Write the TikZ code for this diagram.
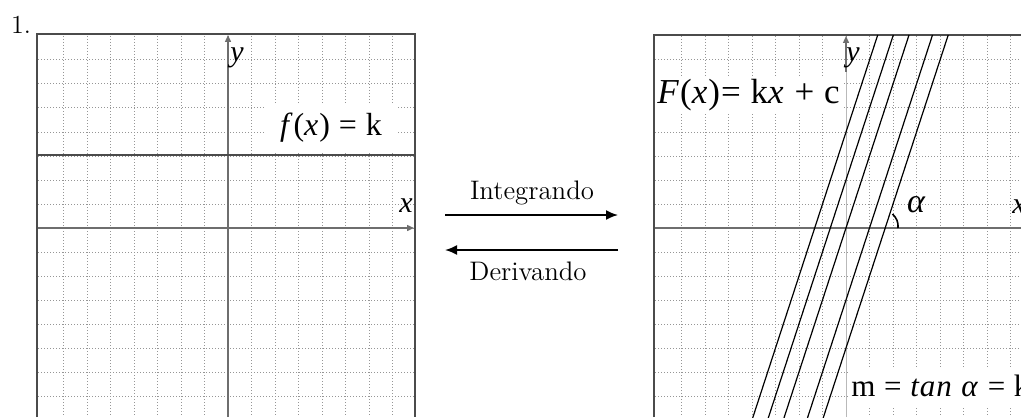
\documentclass[tikz,border=0pt]{standalone}
\usepackage{fontspec}
\usepackage{xcolor}
\usetikzlibrary{arrows.meta,positioning}
\newfontfamily\eqfont[LetterSpace=3, ItalicFont={Liberation Serif Italic}]{Liberation Serif}
\definecolor{GridGray}{RGB}{150,150,150}
\definecolor{FrameGray}{RGB}{75,75,75}
\definecolor{AxisGray}{RGB}{110,110,110}
\definecolor{LightAxis}{RGB}{185,185,185}

\begin{document}
\begin{tikzpicture}[
  x=0.5pt, y=-0.5pt,
  gridline/.style={GridGray, line width=0.5pt, densely dotted},
  frame/.style={FrameGray, line width=0.9pt},
  axis/.style={AxisGray, line width=0.7pt},
  axisarrow/.style={axis, -{Triangle[length=3.5pt,width=3pt]}},
  family/.style={black, line width=0.6pt},
  eqbox/.style={fill=white, inner sep=1pt, font=\eqfont\fontsize{16}{18}\selectfont},
  axlabel/.style={inner sep=0pt, font=\eqfont\fontsize{15}{18}\selectfont\itshape},
  word/.style={inner sep=0pt, font=\fontsize{13.4}{16}\selectfont},
  arrow/.style={-{Latex[length=6pt,width=5pt]}, line width=0.9pt}
]
\useasboundingbox (0,0) rectangle (1021,417);

% left grid
\foreach \i in {-7,...,7}
  \draw[gridline] ({228+23.5*\i},36) -- ({228+23.5*\i},417);
\foreach \j in {-7,...,7}
  \draw[gridline] (38,{228+24*\j}) -- (414,{228+24*\j});

% right grid
\foreach \i in {-7,...,7}
  \draw[gridline] ({846+23.5*\i},36) -- ({846+23.5*\i},417);
\foreach \j in {-7,...,7}
  \draw[gridline] (655,{228+24*\j}) -- (1021,{228+24*\j});

% left axes and frame
\coordinate (lorigin) at (228,228);
\draw[axisarrow] (228,417) -- (228,35);
\draw[axisarrow] (37,228) -- (414,228);
\draw[frame] (37,417) -- (37,34) -- (415,34) -- (415,417);
\draw[FrameGray, line width=1.1pt] (37,155) -- (415,155);

% right axes and frame
\coordinate (rorigin) at (846,228);
\draw[LightAxis, line width=0.5pt] (846,417) -- (846,72);
\draw[axisarrow] (846,72) -- (846,36);
\draw[axis] (654,228) -- (1021,228);
\draw[frame] (654,417) -- (654,35) -- (1021,35);

% family of primitives
\foreach \xc in {814.7,830.3,846,869.5,885.2}
  \draw[family] ({\xc+63},35) -- ({\xc-62.7},420);
\draw[black, line width=0.8pt] (898,228) .. controls (898.5,222) and (896.5,218) .. (892.5,214);

% labels
\node[axlabel] (ly) at (237,58) {y};
\node[axlabel] (lx) at (406,206) {x};
\node[axlabel] (ry) at (853,58) {y};
\node[axlabel] (rx) at (1019,207) {x};
\node[axlabel, font=\eqfont\fontsize{17}{18}\selectfont\itshape] (alpha) at (916,205) {α};

\node[eqbox, minimum width=66pt, minimum height=24pt] (fk) at (331,128)
  {\textit{f}(\textit{x}) = k};
\node[eqbox, anchor=west, minimum height=18pt,
  font=\eqfont\fontsize{17.5}{18}\selectfont] (Fkc) at (655,95)
  {\textit{F}(\textit{x})= k\textit{x} + c};
\node[eqbox, anchor=west, minimum height=19pt, text depth=2pt,
  font=\eqfont\fontsize{15.5}{18}\selectfont] (mtan) at (849,388)
  {m = \textit{tan} \textit{α} = k};

\node[font=\fontsize{13}{15}\selectfont, inner sep=0pt] (num) at (21,25) {1.};

% integrate / derive
\coordinate (intA) at (445,215);
\coordinate (intB) at (618,215);
\coordinate (derA) at (618,250);
\coordinate (derB) at (445,250);
\draw[arrow] (intA) -- (intB);
\draw[arrow] (derA) -- (derB);
\node[word] (integ) at (532,193) {Integrando};
\node[word] (deriv) at (528,271) {Derivando};
\end{tikzpicture}
\end{document}
